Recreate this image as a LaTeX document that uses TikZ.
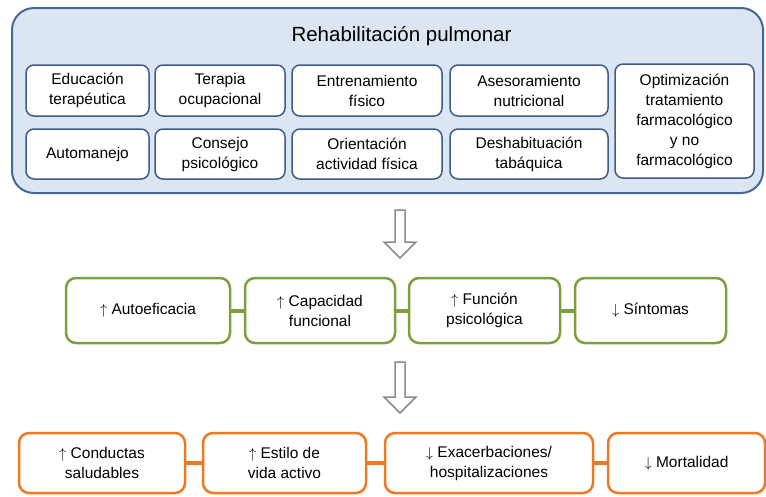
\documentclass[tikz,border=0pt]{standalone}
\usepackage{fontspec}
\setmainfont{Liberation Sans}
\definecolor{bfill}{HTML}{DCE6F2}
\definecolor{bline}{HTML}{46679A}
\definecolor{iline}{HTML}{3E5C88}
\definecolor{gline}{HTML}{79A23C}
\definecolor{oline}{HTML}{EC7A24}
\definecolor{aline}{HTML}{8C8C8C}
\begin{document}
\begin{tikzpicture}[x=1pt,y=-1pt,
  outerbox/.style={draw=bline, fill=bfill, line width=2pt, rounded corners=22pt, inner sep=0pt},
  ibox/.style={draw=iline, fill=white, line width=1.5pt, rounded corners=8pt, inner sep=0pt, align=center, font=\fontsize{15.5}{20}\selectfont},
  gbox/.style={draw=gline, fill=white, line width=2.5pt, rounded corners=10pt, inner sep=0pt, align=center, minimum height=65pt, font=\fontsize{15.5}{20}\selectfont},
  obox/.style={draw=oline, fill=white, line width=2.5pt, rounded corners=10pt, inner sep=0pt, align=center, minimum height=60pt, font=\fontsize{15.5}{20}\selectfont},
  gconn/.style={draw=gline, line width=4pt},
  oconn/.style={draw=oline, line width=4pt},
  blockarrow/.style={draw=aline, fill=white, line width=1.5pt, line join=miter}
]
\useasboundingbox (0,0) rectangle (766,496);

% outer container
\node[outerbox, minimum width=751pt, minimum height=185pt] (rp) at (387.5,100.5) {};
\node[font=\fontsize{20.5}{24}\selectfont] (title) at (401.5,36) {Rehabilitación pulmonar};

% first row
\node[ibox, minimum width=123pt, minimum height=51pt] (e1) at (87.5,90.5) {Educación\\terapéutica};
\node[ibox, minimum width=130pt, minimum height=51pt] (e2) at (220,90.5) {Terapia\\ocupacional};
\node[ibox, minimum width=150pt, minimum height=51pt] (e3) at (367,90.5) {Entrenamiento\\físico};
\node[ibox, minimum width=158pt, minimum height=51pt] (e4) at (529,90.5) {Asesoramiento\\nutricional};
% second row
\node[ibox, minimum width=123pt, minimum height=50pt] (a1) at (87.5,154) {Automanejo};
\node[ibox, minimum width=130pt, minimum height=50pt] (a2) at (220,154) {Consejo\\psicológico};
\node[ibox, minimum width=150pt, minimum height=50pt] (a3) at (367,154) {Orientación\\actividad física};
\node[ibox, minimum width=158pt, minimum height=50pt] (a4) at (529,154) {Deshabituación\\tabáquica};
% tall box
\node[ibox, minimum width=139pt, minimum height=114pt] (e5) at (684.5,121) {Optimización\\tratamiento\\farmacológico\\y no\\farmacológico};

% arrow 1
\draw[blockarrow] (395,210) -- (405,210) -- (405,242) -- (416,242) -- (400,258) -- (384,242) -- (395,242) -- cycle;

% green row
\node[gbox, minimum width=164pt] (g1) at (148,310.5) {$\uparrow$ Autoeficacia};
\node[gbox, minimum width=150pt] (g2) at (320,310.5) {$\uparrow$ Capacidad\\funcional};
\node[gbox, minimum width=151pt] (g3) at (484.5,310.5) {$\uparrow$ Función\\psicológica};
\node[gbox, minimum width=151pt] (g4) at (650.5,310.5) {$\downarrow$ Síntomas};
\draw[gconn] (g1) -- (g2);
\draw[gconn] (g2) -- (g3);
\draw[gconn] (g3) -- (g4);

% arrow 2
\draw[blockarrow] (395,362) -- (405,362) -- (405,397) -- (416,397) -- (400,413) -- (384,397) -- (395,397) -- cycle;

% orange row
\node[obox, minimum width=166pt] (o1) at (102,463) {$\uparrow$ Conductas\\saludables};
\node[obox, minimum width=163pt] (o2) at (284.5,463) {$\uparrow$ Estilo de\\vida activo};
\node[obox, minimum width=208pt] (o3) at (489,463) {$\downarrow$ Exacerbaciones/\\hospitalizaciones};
\node[obox, minimum width=157pt] (o4) at (686.5,463) {$\downarrow$ Mortalidad};
\draw[oconn] (o1) -- (o2);
\draw[oconn] (o2) -- (o3);
\draw[oconn] (o3) -- (o4);
\end{tikzpicture}
\end{document}
